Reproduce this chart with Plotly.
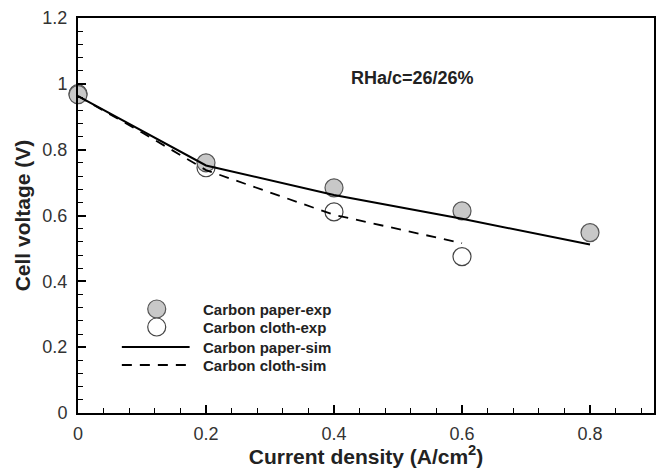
import plotly.graph_objects as go

# Data
x_exp = [0.0, 0.2, 0.4, 0.6, 0.8]
paper_exp = [0.967, 0.760, 0.684, 0.614, 0.548]
x_cloth_exp = [0.0, 0.2, 0.4, 0.6]
cloth_exp = [0.970, 0.745, 0.611, 0.475]
x_paper_sim = [0.0, 0.2, 0.4, 0.6, 0.8]
paper_sim = [0.963, 0.752, 0.662, 0.590, 0.512]
x_cloth_sim = [0.0, 0.1, 0.2, 0.4, 0.6]
cloth_sim = [0.963, 0.852, 0.738, 0.602, 0.516]
legend_labels = ["Carbon paper-exp", "Carbon cloth-exp", "Carbon paper-sim", "Carbon cloth-sim"]
annotation_text = "RHa/c=26/26%"

W, H = 658, 468
L, R, T, B = 78, 2, 18, 55
pw, ph = W - L - R, H - T - B

def px(xp):
    return (xp - L) / pw

def py(yp):
    return 1 - (yp - T) / ph

fig = go.Figure()
fig.add_trace(go.Scatter(x=x_cloth_exp, y=cloth_exp, mode="markers", name=legend_labels[1],
                         marker=dict(size=18, color="white", line=dict(color="#444", width=1.2)),
                         cliponaxis=False, showlegend=False))
fig.add_trace(go.Scatter(x=x_exp, y=paper_exp, mode="markers", name=legend_labels[0],
                         marker=dict(size=18, color="#c8c8c8", line=dict(color="#555", width=1.2)),
                         cliponaxis=False, showlegend=False))
fig.add_trace(go.Scatter(x=x_paper_sim, y=paper_sim, mode="lines", name=legend_labels[2],
                         line=dict(color="black", width=2), showlegend=False))
fig.add_trace(go.Scatter(x=x_cloth_sim, y=cloth_sim, mode="lines", name=legend_labels[3],
                         line=dict(color="black", width=1.8, dash="10px,8px"), showlegend=False))

font = "Liberation Sans, Arial, sans-serif"
shapes = []
annotations = []
# manual legend
cx = 157
rows = [309, 327, 347, 365]
shapes.append(dict(type="circle", xref="paper", yref="paper", xsizemode="pixel", ysizemode="pixel",
                   xanchor=px(cx), yanchor=py(rows[0]), x0=-9, x1=9, y0=-9, y1=9,
                   fillcolor="#c8c8c8", line=dict(color="#555", width=1.2)))
shapes.append(dict(type="circle", xref="paper", yref="paper", xsizemode="pixel", ysizemode="pixel",
                   xanchor=px(cx), yanchor=py(rows[1]), x0=-9, x1=9, y0=-9, y1=9,
                   fillcolor="white", line=dict(color="#444", width=1.2)))
shapes.append(dict(type="line", xref="paper", yref="paper", x0=px(122), x1=px(190),
                   y0=py(rows[2]), y1=py(rows[2]), line=dict(color="black", width=2)))
shapes.append(dict(type="line", xref="paper", yref="paper", x0=px(122), x1=px(190),
                   y0=py(rows[3]), y1=py(rows[3]), line=dict(color="black", width=2, dash="10px,8px")))
for lbl, ry in zip(legend_labels, rows):
    annotations.append(dict(text="<b>%s</b>" % lbl, xref="paper", yref="paper", x=px(201), y=py(ry),
                            xanchor="left", yanchor="middle", showarrow=False,
                            font=dict(family=font, size=15, color="#222")))
annotations.append(dict(text="<b>%s</b>" % annotation_text, xref="paper", yref="paper",
                        x=px(350), y=py(78), xanchor="left", yanchor="middle", showarrow=False,
                        font=dict(family=font, size=18, color="#222")))

axis_common = dict(showgrid=False, zeroline=False, showline=True, linecolor="black", linewidth=2,
                   mirror=True, ticks="inside", ticklen=8, tickwidth=1.5, tickcolor="black",
                   tickfont=dict(family=font, size=18, color="#333"),
                   minor=dict(ticks="inside", ticklen=5, tickwidth=1.2, tickcolor="black", dtick=0.04))

fig.update_xaxes(range=[0, 0.9], dtick=0.2, tick0=0, ticklabelstandoff=3, **axis_common,
                 title=dict(text="<b>Current density (A/cm<sup>2</sup>)</b>",
                            font=dict(family=font, size=21, color="#222"), standoff=5))
fig.update_yaxes(range=[0, 1.2], dtick=0.2, tick0=0, ticklabelstandoff=5, **axis_common,
                 title=dict(text="<b>Cell voltage (V)</b>",
                            font=dict(family=font, size=21, color="#222"), standoff=6))

fig.update_layout(width=W, height=H, margin=dict(l=L, r=R, t=T, b=B),
                  plot_bgcolor="white", paper_bgcolor="white",
                  shapes=shapes, annotations=annotations, showlegend=False)

fig.write_html("out.html")
